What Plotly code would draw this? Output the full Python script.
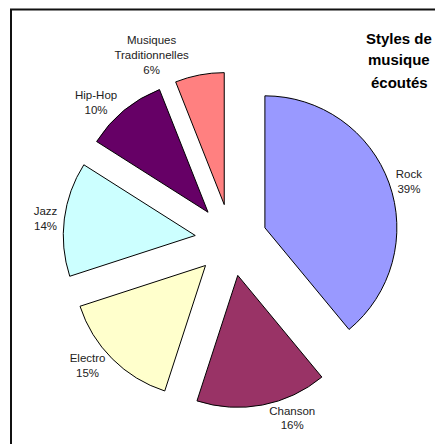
import plotly.graph_objects as go

labels = ["Rock", "Chanson", "Electro", "Jazz", "Hip-Hop", "Musiques<br>Traditionnelles"]
values = [39, 16, 15, 14, 10, 6]
colors = ["#9999FF", "#993366", "#FFFFCC", "#CCFFFF", "#660066", "#FF8080"]
title_lines = ["Styles de", "musique", "écoutés"]

W, H = 435, 444

fig = go.Figure(go.Pie(
    labels=labels,
    values=values,
    sort=False,
    direction="clockwise",
    rotation=0,
    pull=[0.273] * len(values),
    marker=dict(colors=colors, line=dict(color="#000000", width=1)),
    textposition="outside",
    texttemplate="%{label}<br>%{percent:.0%}",
    textfont=dict(family="Liberation Sans, Arial, sans-serif", size=11.5, color="#222222"),
    hoverinfo="label+percent",
    showlegend=False,
    automargin=False,
    domain=dict(x=[63 / W, 399 / W], y=[(H - 408) / H, (H - 72) / H]),
))

shapes = [dict(type="rect", xref="paper", yref="paper",
               x0=11 / W, x1=1.05, y0=-0.05, y1=1 - 9.5 / H,
               line=dict(color="#111111", width=2), fillcolor="rgba(0,0,0,0)", layer="below")]

annotations = []
for i, t in enumerate(title_lines):
    annotations.append(dict(text="<b>" + t + "</b>", xref="paper", yref="paper",
                            x=399 / W, y=1 - (38 + 22 * i) / H, xanchor="center", yanchor="middle",
                            showarrow=False,
                            font=dict(family="Liberation Sans, Arial, sans-serif", size=15, color="#000000")))

fig.update_layout(
    width=W, height=H,
    autosize=False,
    margin=dict(l=0, r=0, t=0, b=0, pad=0, autoexpand=False),
    paper_bgcolor="#FFFFFF",
    plot_bgcolor="#FFFFFF",
    shapes=shapes,
    annotations=annotations,
)

fig.write_html("out.html")
